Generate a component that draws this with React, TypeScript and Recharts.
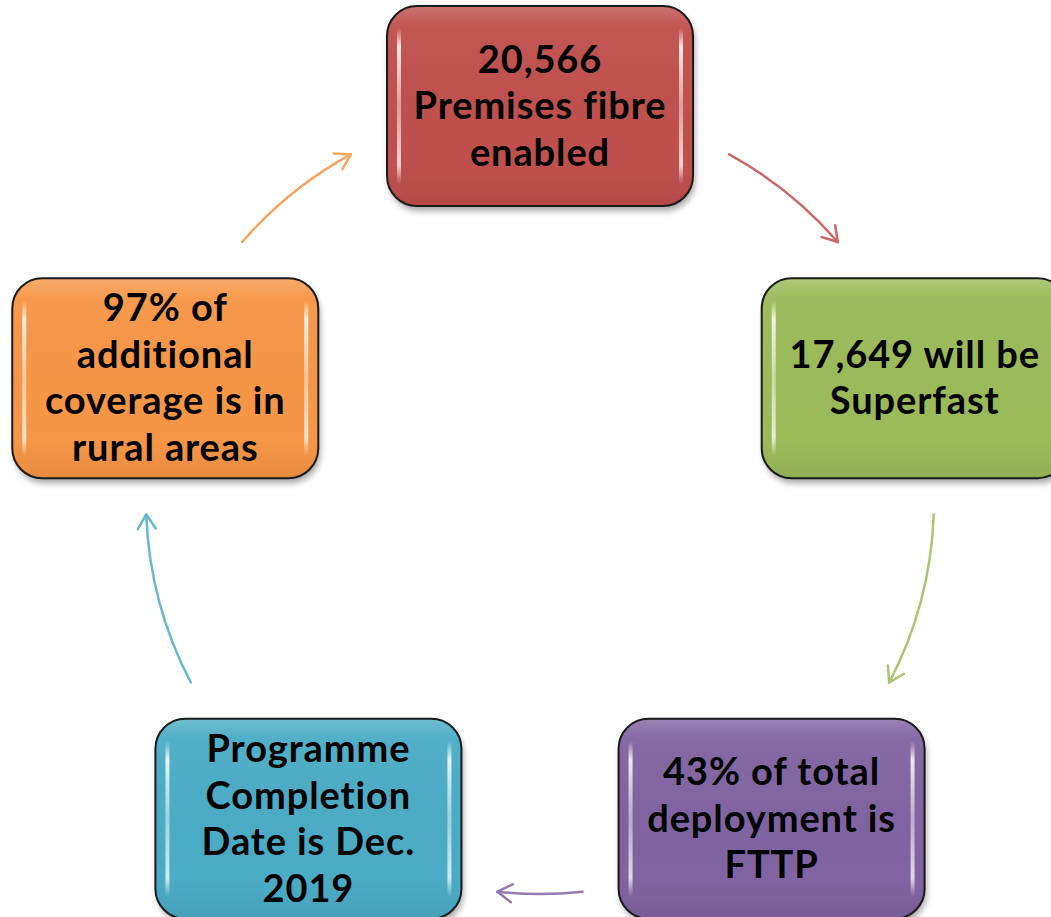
import React from "react"
import { PieChart, Pie } from "recharts"

// cycle steps, clockwise from the top
const stepLines: string[][] = [
  ["20,566", "Premises fibre", "enabled"],
  ["17,649 will be", "Superfast"],
  ["43% of total", "deployment is", "FTTP"],
  ["Programme", "Completion", "Date is Dec.", "2019"],
  ["97% of", "additional", "coverage is in", "rural areas"],
]
// every step gets the same share of the circle
const stepWeights = [1, 1, 1, 1, 1]

const palette = ["#C0504D", "#9BBB59", "#8064A2", "#4BACC6", "#F79646"]

const steps = stepLines.map((lines, i) => ({
  name: lines.join(" "),
  value: stepWeights[i],
  lines,
}))

const WIDTH = 1051
const HEIGHT = 917
const BOX_W = 306
const BOX_H = 200
const GAP = 36
const RADIAN = Math.PI / 180

function polar(cx: number, cy: number, r: number, angle: number) {
  return { x: cx + r * Math.cos(-angle * RADIAN), y: cy + r * Math.sin(-angle * RADIAN) }
}

function nearBox(p: { x: number; y: number }, c: { x: number; y: number }) {
  const dx = Math.max(Math.abs(p.x - c.x) - BOX_W / 2, 0)
  const dy = Math.max(Math.abs(p.y - c.y) - BOX_H / 2, 0)
  return Math.hypot(dx, dy) < GAP
}

const renderBox = (props: any) => {
  const { cx, cy, midAngle, outerRadius, index } = props
  const c = polar(cx, cy, outerRadius, midAngle)
  const color = palette[index % palette.length]
  const lines: string[] = steps[index].lines
  const x = c.x - BOX_W / 2
  const y = c.y - BOX_H / 2
  const lineH = 46.5
  const gid = `box-${index}`
  return (
    <g key={gid}>
      <defs>
        <filter id={`${gid}-shadow`} x="-10%" y="-10%" width="120%" height="130%">
          <feGaussianBlur stdDeviation="3" />
        </filter>
        <linearGradient id={`${gid}-gloss`} x1="0" y1="0" x2="0" y2="1">
          <stop offset="0" stopColor="#fff" stopOpacity={0.2} />
          <stop offset="0.1" stopColor="#fff" stopOpacity={0.04} />
          <stop offset="0.8" stopColor="#000" stopOpacity={0} />
          <stop offset="1" stopColor="#000" stopOpacity={0.07} />
        </linearGradient>
        <linearGradient id={`${gid}-stripe`} x1="0" y1="0" x2="0" y2="1">
          <stop offset="0" stopColor="#fff" stopOpacity={0} />
          <stop offset="0.12" stopColor="#fff" stopOpacity={0.85} />
          <stop offset="0.5" stopColor="#fff" stopOpacity={0.45} />
          <stop offset="0.88" stopColor="#fff" stopOpacity={0.75} />
          <stop offset="1" stopColor="#fff" stopOpacity={0} />
        </linearGradient>
      </defs>
      <rect x={x + 2} y={y + 5} width={BOX_W} height={BOX_H} rx={30} fill="#000" opacity={0.35} filter={`url(#${gid}-shadow)`} />
      <rect x={x} y={y} width={BOX_W} height={BOX_H} rx={30} fill={color} />
      <rect x={x} y={y} width={BOX_W} height={BOX_H} rx={30} fill={`url(#${gid}-gloss)`} />
      <rect x={x + 10} y={y + 22} width={4} height={BOX_H - 44} rx={2} fill={`url(#${gid}-stripe)`} />
      <rect x={x + BOX_W - 14} y={y + 22} width={4} height={BOX_H - 44} rx={2} fill={`url(#${gid}-stripe)`} />
      <rect x={x} y={y} width={BOX_W} height={BOX_H} rx={30} fill="none" stroke="#1a1a1a" strokeWidth={2} />
      <text
        x={c.x}
        textAnchor="middle"
        fontFamily="Lato, 'Noto Sans', sans-serif"
        fontWeight={700}
        fontSize={38}
        letterSpacing={0.9}
        fill="#000"
      >
        {lines.map((line, i) => (
          <tspan key={i} x={c.x} y={c.y + (i - (lines.length - 1) / 2) * lineH + 13}>
            {line}
          </tspan>
        ))}
      </text>
    </g>
  )
}

const renderArrow = (props: any) => {
  const { cx, cy, startAngle, endAngle, outerRadius, index } = props
  const r = outerRadius
  const from = polar(cx, cy, r, startAngle)
  const to = polar(cx, cy, r, endAngle)
  let a1 = startAngle
  while (a1 > endAngle && nearBox(polar(cx, cy, r, a1), from)) a1 -= 0.1
  let a2 = endAngle
  while (a2 < a1 && nearBox(polar(cx, cy, r, a2), to)) a2 += 0.1
  const p1 = polar(cx, cy, r, a1)
  const p2 = polar(cx, cy, r, a2)
  const dir = { x: Math.sin(a2 * RADIAN), y: Math.cos(a2 * RADIAN) }
  const wing = (t: number) => {
    const bx = -dir.x
    const by = -dir.y
    const wx = bx * Math.cos(t) - by * Math.sin(t)
    const wy = bx * Math.sin(t) + by * Math.cos(t)
    return `${p2.x + wx * 17},${p2.y + wy * 17}`
  }
  const color = palette[index % palette.length]
  return (
    <g key={`arrow-${index}`} stroke={color} strokeWidth={2.5} fill="none" strokeLinecap="round" strokeLinejoin="round" opacity={0.85}>
      <path d={`M${p1.x},${p1.y} A${r},${r} 0 0 1 ${p2.x},${p2.y}`} />
      <path d={`M${wing(32 * RADIAN)} L${p2.x},${p2.y} L${wing(-32 * RADIAN)}`} />
    </g>
  )
}

export default function App() {
  return (
    <div style={{ position: "absolute", left: 0, top: 0, background: "#fff" }}>
      <PieChart width={WIDTH} height={HEIGHT} margin={{ top: 0, right: 0, bottom: 0, left: 0 }}>
        <Pie
          data={steps}
          dataKey="value"
          cx={540}
          cy={500}
          outerRadius={394}
          startAngle={90}
          endAngle={-270}
          fill="none"
          stroke="none"
          label={renderArrow}
          labelLine={false}
          isAnimationActive={false}
        />
        <Pie
          data={steps}
          dataKey="value"
          cx={540}
          cy={500}
          outerRadius={394}
          startAngle={126}
          endAngle={-234}
          fill="none"
          stroke="none"
          label={renderBox}
          labelLine={false}
          isAnimationActive={false}
        />
      </PieChart>
    </div>
  )
}
